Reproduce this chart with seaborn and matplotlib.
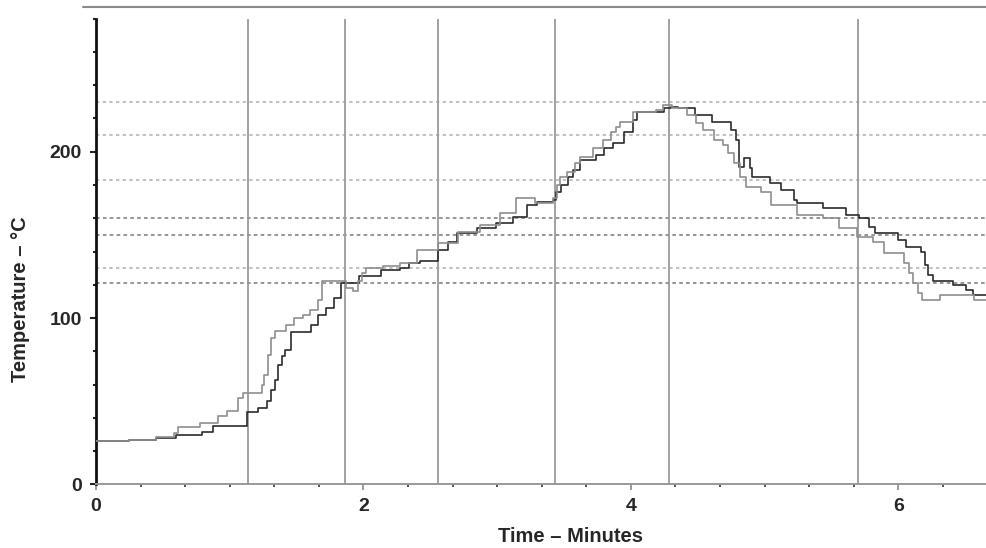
import matplotlib
matplotlib.use("Agg")
import matplotlib.pyplot as plt
from matplotlib.lines import Line2D
from matplotlib.ticker import MultipleLocator, FixedLocator
import numpy as np
import pandas as pd
import seaborn as sns

# Thermocouple A (dark trace): time in minutes, temperature in deg C (step readings)
time_a = [0.00, 0.25, 0.45, 0.60, 0.79, 0.875, 1.13, 1.21, 1.28, 1.31, 1.34, 1.36,
          1.39, 1.41, 1.46, 1.61, 1.66, 1.72, 1.78, 1.83, 1.97, 2.13, 2.27, 2.34,
          2.42, 2.56, 2.63, 2.70, 2.85, 2.99, 3.12, 3.22, 3.30, 3.42, 3.44, 3.48,
          3.53, 3.57, 3.62, 3.74, 3.80, 3.87, 3.95, 4.02, 4.05, 4.25, 4.30, 4.35,
          4.48, 4.61, 4.75, 4.79, 4.81, 4.85, 4.89, 4.91, 5.04, 5.12, 5.22, 5.24,
          5.44, 5.61, 5.71, 5.78, 5.83, 6.00, 6.06, 6.17, 6.20, 6.22, 6.26, 6.41,
          6.51, 6.56, 6.67]
temp_a = [26, 26.5, 28, 29.5, 31.5, 35, 43.5, 46, 50, 56.5, 63, 72,
          77, 81, 91.5, 96, 102, 106, 112, 121, 125, 129, 130, 133,
          134, 141, 146, 151, 154, 157, 161, 168, 170, 171, 176, 180,
          185, 189, 195, 198, 202, 205, 212, 219, 224, 226, 227, 226,
          222, 218, 213, 207, 191, 196, 190, 185, 181, 177, 171, 169,
          166, 162, 160, 155, 151, 147, 143, 140, 132, 126, 122, 120,
          117, 114, 113]

# Thermocouple B (light trace)
time_b = [0.00, 0.25, 0.45, 0.58, 0.61, 0.78, 0.91, 0.98, 1.06, 1.10, 1.24, 1.26,
          1.29, 1.31, 1.34, 1.42, 1.48, 1.55, 1.60, 1.66, 1.69, 1.87, 1.92, 1.96,
          1.99, 2.02, 2.15, 2.27, 2.40, 2.56, 2.71, 2.87, 3.02, 3.14, 3.28, 3.42,
          3.45, 3.47, 3.52, 3.58, 3.62, 3.72, 3.79, 3.85, 3.89, 3.92, 4.02, 4.19,
          4.24, 4.31, 4.42, 4.49, 4.54, 4.62, 4.69, 4.73, 4.77, 4.82, 4.86, 4.97,
          5.05, 5.24, 5.44, 5.56, 5.69, 5.81, 5.89, 6.04, 6.08, 6.11, 6.15, 6.18,
          6.31, 6.57, 6.67]
temp_b = [26, 26.5, 28.5, 31, 34.5, 37, 41, 44, 52, 55, 60, 66,
          78, 88, 92, 96, 100, 102, 105, 111, 122, 118, 116, 122,
          127, 130, 131, 133, 141, 145, 152, 156, 163, 172, 169, 172,
          180, 185, 188, 193, 197, 202, 207, 212, 215, 218, 224, 225,
          228, 226, 222, 217, 213, 207, 204, 199, 193, 185, 179, 176,
          168, 162, 160, 154, 149, 146, 139, 133, 127, 121, 115, 111,
          114, 111, 111]

# Event markers (minutes) and reference temperature levels (deg C)
event_times = [1.137, 1.862, 2.558, 3.433, 4.286, 5.70]
levels_light = [230, 210, 183, 130]
levels_dark = [160, 150, 121]

x_ticks = [0, 2, 4, 6]
y_ticks = [0, 100, 200]

df = pd.concat([
    pd.DataFrame({"Time": time_a, "Temp": temp_a, "Probe": "A"}),
    pd.DataFrame({"Time": time_b, "Temp": temp_b, "Probe": "B"}),
], ignore_index=True)

sns.set_theme(style="white")
plt.rcParams["font.family"] = ["Liberation Sans", "DejaVu Sans"]
plt.rcParams["font.weight"] = "bold"

fig = plt.figure(figsize=(9.87, 5.48), dpi=100)
ax = fig.add_axes([96 / 987, 1 - 484.3 / 548, 891 / 987, 465.6 / 548])

# reference levels
for lv in levels_light:
    ax.axhline(lv, color="#b4b4b4", lw=1.2, ls=(0, (2, 2)), zorder=1)
for lv in levels_dark:
    ax.axhline(lv, color="#8c8c8c", lw=1.3, ls=(0, (2, 1.8)), zorder=1)

# event markers
for t in event_times:
    ax.axvline(t, color="#9a9a9a", lw=1.3, zorder=2)

sns.lineplot(data=df, x="Time", y="Temp", hue="Probe",
             palette={"A": "#2b2b2b", "B": "#8e8e8e"},
             drawstyle="steps-post", estimator=None, sort=False,
             linewidth=1.2, legend=False, ax=ax, zorder=3)

ax.set_xlim(0, 6.664)
ax.set_ylim(0, 280)

ax.xaxis.set_major_locator(FixedLocator(x_ticks))
ax.xaxis.set_minor_locator(MultipleLocator(1 / 3))
ax.yaxis.set_major_locator(FixedLocator(y_ticks))
ax.yaxis.set_minor_locator(MultipleLocator(20))

ax.tick_params(axis="x", which="major", direction="out", length=4, width=1.2,
               color="#8a8a8a", labelsize=14, pad=6, bottom=True)
ax.tick_params(axis="x", which="minor", direction="out", length=2, width=1.2,
               color="#333333", bottom=True)
ax.tick_params(axis="y", which="major", direction="out", length=4, width=1.5,
               color="#222222", labelsize=14, pad=6, left=True)
ax.tick_params(axis="y", which="minor", direction="out", length=2.5, width=1.5,
               color="#222222", left=True)
for lbl in ax.get_xticklabels() + ax.get_yticklabels():
    lbl.set_fontweight("bold")

for side in ("top", "right"):
    ax.spines[side].set_visible(False)
ax.spines["left"].set_color("#111111")
ax.spines["left"].set_linewidth(2.0)
ax.spines["bottom"].set_color("#999999")
ax.spines["bottom"].set_linewidth(1.4)

ax.set_xlabel("Time – Minutes", fontsize=14.5, fontweight="bold")
ax.set_ylabel("Temperature – °C", fontsize=14.5, fontweight="bold")
ax.xaxis.set_label_coords(0.532, -0.113)
ax.xaxis.label.set_va("center")
ax.yaxis.set_label_coords(-0.0847, 0.398)
ax.yaxis.label.set_va("center")

# header rule above the plotting area
fig.add_artist(Line2D([83 / 987, 1.0], [1 - 7 / 548, 1 - 7 / 548],
                      color="#8a8a8a", lw=1.5))

fig.savefig("out.png", dpi=100)
